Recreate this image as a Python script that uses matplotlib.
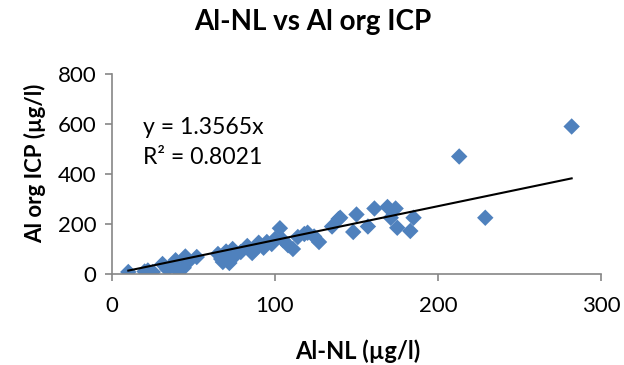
import matplotlib
matplotlib.use("Agg")
import matplotlib.pyplot as plt
import numpy as np

plt.rcParams['font.family'] = ['Lato', 'DejaVu Sans']

x_vals = [10, 20, 22, 25, 31, 34, 37, 39, 40, 44, 45, 47, 52, 65, 67, 68, 70, 72, 74, 75,
          79, 83, 86, 88, 90, 93, 95, 98, 100, 103, 105, 108, 111, 114, 118, 120, 124, 127,
          135, 139, 140, 148, 150, 157, 161, 169, 171, 174, 175, 183, 185, 213, 229, 282]
y_vals = [8, 10, 14, 8, 40, 18, 35, 55, 16, 25, 70, 50, 68, 80, 60, 48, 90, 44, 100, 70,
          88, 112, 84, 100, 125, 105, 128, 120, 140, 183, 135, 115, 100, 148, 160, 165, 150, 128,
          190, 220, 225, 168, 238, 190, 262, 268, 225, 262, 185, 172, 225, 470, 225, 590]
slope = 1.3565
r2 = 0.8021
x_ticks = [0, 100, 200, 300]
y_ticks = [0, 200, 400, 600, 800]

fig = plt.figure(figsize=(6.24, 3.65), dpi=100)
ax = fig.add_axes([112/624, 1 - 274/365, (601-112)/624, (274-74)/365])

ax.scatter(x_vals, y_vals, marker='D', s=70, color='#4F81BD', edgecolors='none', zorder=2)
xl = np.array([min(x_vals), max(x_vals)])
ax.plot(xl, slope * xl, color='black', lw=1.5, zorder=3)

ax.set_xlim(0, 300)
ax.set_ylim(0, 800)
ax.set_xticks(x_ticks)
ax.set_yticks(y_ticks)
for s in ['top', 'right']:
    ax.spines[s].set_visible(False)
for s in ['left', 'bottom']:
    ax.spines[s].set_color('#868686')
    ax.spines[s].set_linewidth(1.2)
ax.tick_params(axis='both', color='#868686', length=5, width=1.2, labelsize=16, direction='out')
ax.tick_params(axis='x', pad=11)
ax.tick_params(axis='y', pad=6)

ax.text(143/624, 1 - 128/365, f'y = {slope}x', transform=fig.transFigure, fontsize=16.6, va='center', ha='left')
ax.text(143/624, 1 - 158/365, f'R² = {r2}', transform=fig.transFigure, fontsize=16.6, va='center', ha='left')

fig.text(313/624, 1 - 22/365, 'Al-NL vs Al org ICP', ha='center', va='center', fontsize=20, fontweight='bold')
fig.text(358/624, 1 - 351/365, 'Al-NL (µg/l)', ha='center', va='center', fontsize=17, fontweight='bold')
fig.text(35/624, 1 - 163/365, 'Al org ICP (µg/l)', ha='center', va='center', fontsize=16, fontweight='bold', rotation=90)

fig.savefig('out.png', dpi=100)
